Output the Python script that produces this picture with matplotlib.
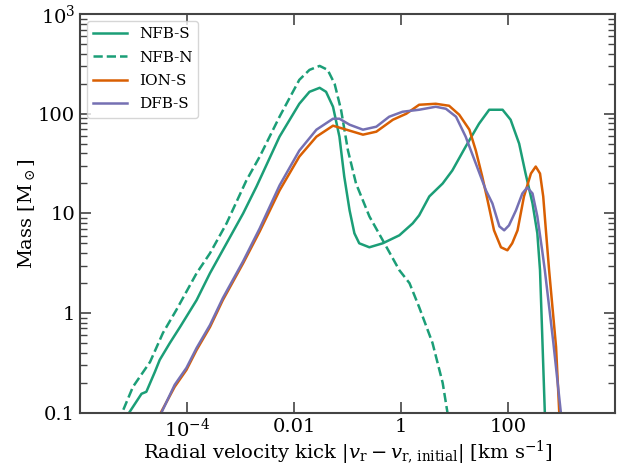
import numpy as np
import matplotlib
matplotlib.use("Agg")
import matplotlib.pyplot as plt
from matplotlib.ticker import FixedLocator, FixedFormatter, LogLocator, NullFormatter

plt.rcParams['font.family'] = ['DejaVu Serif']
plt.rcParams['mathtext.fontset'] = 'dejavuserif'

# log10 of velocity kick [km/s] and log10 of mass [Msun]
nfbs_logv = [-5.07, -4.85, -4.76, -4.60, -4.51, -4.32, -4.13, -3.82, -3.57, -3.26, -2.95, -2.70,
             -2.27, -1.90, -1.71, -1.52, -1.40, -1.27, -1.15, -1.06, -0.96, -0.87, -0.78,
             -0.59, -0.34, -0.03, 0.22, 0.34, 0.53, 0.78, 0.96, 1.21, 1.46, 1.65, 1.90,
             2.05, 2.21, 2.33, 2.46, 2.55, 2.60, 2.64, 2.69]
nfbs_logm = [-0.99, -0.81, -0.79, -0.59, -0.47, -0.30, -0.14, 0.13, 0.40, 0.70, 1.00, 1.27,
             1.77, 2.10, 2.22, 2.26, 2.22, 2.07, 1.77, 1.37, 1.03, 0.80, 0.70,
             0.66, 0.70, 0.78, 0.90, 0.98, 1.17, 1.30, 1.43, 1.67, 1.90, 2.04, 2.04,
             1.94, 1.70, 1.40, 1.10, 0.80, 0.43, -0.20, -1.00]

nfbn_logv = [-5.19, -5.01, -4.69, -4.45, -4.20, -3.82, -3.57, -3.26, -2.89, -2.64, -2.27,
             -1.90, -1.71, -1.52, -1.37, -1.24, -1.12, -0.99, -0.84, -0.59, -0.34, -0.03,
             0.16, 0.34, 0.59, 0.78, 0.87]
nfbn_logm = [-0.97, -0.74, -0.49, -0.20, 0.03, 0.40, 0.60, 0.90, 1.33, 1.57, 1.97,
             2.34, 2.44, 2.48, 2.44, 2.30, 2.04, 1.63, 1.30, 0.97, 0.73, 0.43,
             0.30, 0.06, -0.30, -0.70, -1.00]

ions_logv = [-4.48, -4.23, -4.01, -3.82, -3.57, -3.33, -2.95, -2.64, -2.27, -1.90, -1.58,
             -1.27, -1.02, -0.71, -0.46, -0.15, 0.10, 0.34, 0.65, 0.90, 1.09, 1.28, 1.40,
             1.52, 1.62, 1.74, 1.87, 1.99, 2.08, 2.18, 2.30, 2.43, 2.52, 2.60, 2.66, 2.71,
             2.77, 2.90, 2.96]
ions_logm = [-0.99, -0.74, -0.57, -0.37, -0.14, 0.13, 0.50, 0.82, 1.23, 1.57, 1.77,
             1.88, 1.84, 1.79, 1.82, 1.94, 2.00, 2.09, 2.10, 2.08, 1.99, 1.84, 1.63,
             1.37, 1.13, 0.83, 0.66, 0.63, 0.70, 0.83, 1.17, 1.40, 1.47, 1.40, 1.17, 0.83,
             0.43, -0.34, -1.00]

dfbs_logv = [-4.47, -4.23, -4.01, -3.82, -3.57, -3.33, -2.95, -2.64, -2.27, -1.90, -1.58,
             -1.27, -1.15, -0.96, -0.71, -0.46, -0.22, 0.03, 0.34, 0.65, 0.84, 1.03, 1.21,
             1.40, 1.59, 1.71, 1.84, 1.93, 2.02, 2.15, 2.27, 2.36, 2.46, 2.55, 2.64, 2.69,
             2.85, 2.99]
dfbs_logm = [-0.99, -0.72, -0.55, -0.35, -0.12, 0.15, 0.52, 0.85, 1.28, 1.63, 1.84,
             1.95, 1.95, 1.89, 1.84, 1.87, 1.97, 2.02, 2.04, 2.07, 2.05, 1.97, 1.77,
             1.50, 1.23, 1.10, 0.87, 0.83, 0.88, 1.03, 1.20, 1.26, 1.20, 0.97, 0.63, 0.43,
             -0.30, -1.00]

series = [
    ("NFB-S", nfbs_logv, nfbs_logm, "#1b9e77", "-"),
    ("NFB-N", nfbn_logv, nfbn_logm, "#1b9e77", "--"),
    ("ION-S", ions_logv, ions_logm, "#d95f02", "-"),
    ("DFB-S", dfbs_logv, dfbs_logm, "#7570b3", "-"),
]

xticks = [1e-4, 1e-2, 1, 100]
xticklabels = [r"$10^{-4}$", "0.01", "1", "100"]
yticks = [0.1, 1, 10, 100, 1000]
yticklabels = ["0.1", "1", "10", "100", r"$10^3$"]

fig = plt.figure(figsize=(6.33, 4.69), dpi=100)
ax = fig.add_axes([0.1264, 0.120, 0.845, 0.850])

for name, lv, lm, c, ls in series:
    ax.plot(10 ** np.array(lv), 10 ** np.array(lm), color=c, ls=ls, lw=1.8, label=name)

ax.set_xscale("log")
ax.set_yscale("log")
ax.set_xlim(1e-6, 1e4)
ax.set_ylim(0.1, 1000)

ax.xaxis.set_major_locator(FixedLocator(xticks))
ax.xaxis.set_major_formatter(FixedFormatter(xticklabels))
ax.xaxis.set_minor_locator(FixedLocator([]))
ax.yaxis.set_major_locator(FixedLocator(yticks))
ax.yaxis.set_major_formatter(FixedFormatter(yticklabels))
ax.yaxis.set_minor_locator(LogLocator(base=10, subs=np.arange(2, 10)))
ax.yaxis.set_minor_formatter(NullFormatter())

ax.tick_params(which="both", direction="in", top=True, right=True, colors="#444444",
               labelcolor="black", labelsize=14)
ax.tick_params(which="major", length=8, width=1.2)
ax.tick_params(which="minor", length=5, width=1.0)
for s in ax.spines.values():
    s.set_color("#444444")
    s.set_linewidth(1.5)

ax.set_xlabel(r"Radial velocity kick $|v_{\rm r} - v_{\rm r,\,initial}|$ [km s$^{-1}$]",
              fontsize=14, labelpad=-1)
ax.set_ylabel(r"Mass [M$_\odot$]", fontsize=14, labelpad=1)

ax.legend(loc="upper left", fontsize=11, handlelength=2.2, labelspacing=0.62,
          borderaxespad=0.45)

fig.savefig("out.png", dpi=100)
